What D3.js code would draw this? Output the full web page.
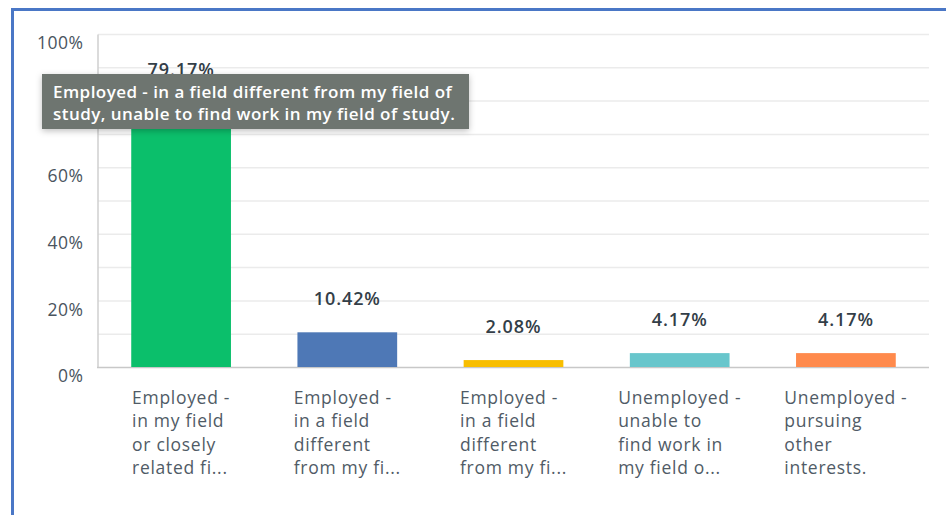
<!DOCTYPE html>
<html>
<head>
<meta charset="utf-8">
<script src="https://cdn.jsdelivr.net/npm/d3@7"></script>
<style>
  body { margin: 0; background: #fff; }
  svg { display: block; font-family: "Open Sans", sans-serif; }
</style>
</head>
<body>
<script>
'use strict';

// chart data
const categories = [
  ["Employed -", "in my field", "or closely", "related fi..."],
  ["Employed -", "in a field", "different", "from my fi..."],
  ["Employed -", "in a field", "different", "from my fi..."],
  ["Unemployed -", "unable to", "find work in", "my field o..."],
  ["Unemployed -", "pursuing", "other", "interests."]
];
const values = [79.17, 10.42, 2.08, 4.17, 4.17];
const barColors = ["#0bbf6b", "#4e78b6", "#f8be00", "#68c6cc", "#ff8a4c"];
const yTicks = [0, 20, 40, 60, 80, 100];
const gridTicks = [10, 20, 30, 40, 50, 60, 70, 80, 90, 100];
const tooltipLines = [
  "Employed - in a field different from my field of",
  "study, unable to find work in my field of study."
];

const width = 946, height = 515;

const svg = d3.select('body')
  .append('svg')
  .attr('width', width)
  .attr('height', height);

// blue frame (top and left edges visible)
svg.append('path')
  .attr('d', 'M12.5,515 L12.5,9.5 L946,9.5')
  .attr('fill', 'none')
  .attr('stroke', '#4a77c6')
  .attr('stroke-width', 3);

let xScale = d3.scaleBand()
  .domain(d3.range(values.length))
  .range([98, 929])
  .paddingInner(0.4)
  .paddingOuter(0.2);

let yScale = d3.scaleLinear()
  .domain([0, 100])
  .range([367, 34]);

// gridlines
svg.append('g')
  .selectAll('line')
  .data(gridTicks)
  .enter().append('line')
  .attr('x1', 98)
  .attr('x2', 929)
  .attr('y1', d => yScale(d) + 0.5)
  .attr('y2', d => yScale(d) + 0.5)
  .attr('stroke', '#ebebeb')
  .attr('stroke-width', 1.5);

// y axis line and labels
let yAxis = d3.axisLeft(yScale)
  .tickValues(yTicks)
  .tickSize(0)
  .tickPadding(14)
  .tickFormat(d => d + '%');

let yg = svg.append('g')
  .attr('transform', 'translate(97.5, 0)')
  .call(yAxis);
yg.select('.domain').attr('stroke', '#cfcfcf').attr('stroke-width', 1.5);
yg.selectAll('text')
  .attr('dy', '0.32em')
  .attr('y', 9)
  .style('font-size', '17.5px')
  .style('letter-spacing', '0.5px')
  .style('font-family', '"Open Sans", sans-serif')
  .attr('fill', '#4a545e');

// baseline
svg.append('line')
  .attr('x1', 97)
  .attr('x2', 929)
  .attr('y1', yScale(0) + 0.5)
  .attr('y2', yScale(0) + 0.5)
  .attr('stroke', '#c8c8c8')
  .attr('stroke-width', 1.5);

// bars
svg.selectAll('.bar')
  .data(values)
  .enter().append('rect')
  .attr('class', 'bar')
  .attr('x', (d, i) => xScale(i))
  .attr('y', d => yScale(d))
  .attr('width', xScale.bandwidth())
  .attr('height', d => yScale(0) - yScale(d))
  .attr('fill', (d, i) => barColors[i]);

// value labels
svg.selectAll('.val')
  .data(values)
  .enter().append('text')
  .attr('class', 'val')
  .attr('x', (d, i) => xScale(i) + xScale.bandwidth() / 2)
  .attr('y', d => yScale(d) - 27)
  .attr('text-anchor', 'middle')
  .style('font-size', '18px')
  .style('letter-spacing', '0.9px')
  .style('font-weight', 600)
  .attr('fill', '#333e48')
  .text(d => d.toFixed(2) + '%');

// category labels: left aligned block centred under each band
categories.forEach(function(lines, i) {
  let g = svg.append('g');
  let t = g.append('text')
    .style('font-size', '17.5px')
    .style('letter-spacing', '0.7px')
    .attr('fill', '#505b66');
  lines.forEach(function(line, j) {
    t.append('tspan')
      .attr('x', 0)
      .attr('y', 404 + j * 23.3)
      .text(line);
  });
  let w = t.node().getBBox().width;
  let cx = xScale(i) + xScale.bandwidth() / 2;
  g.attr('transform', 'translate(' + (cx - w / 2) + ', 0)');
});

// tooltip
let defs = svg.append('defs');
let f = defs.append('filter').attr('id', 'shadow')
  .attr('x', '-10%').attr('y', '-30%').attr('width', '120%').attr('height', '160%');
f.append('feDropShadow')
  .attr('dx', 0).attr('dy', 2)
  .attr('stdDeviation', 3)
  .attr('flood-color', '#000')
  .attr('flood-opacity', 0.25);

let tip = svg.append('g');
tip.append('rect')
  .attr('x', 42)
  .attr('y', 74)
  .attr('width', 427)
  .attr('height', 55)
  .attr('fill', '#6e746f')
  .attr('filter', 'url(#shadow)');
tip.selectAll('text')
  .data(tooltipLines)
  .enter().append('text')
  .attr('x', 53)
  .attr('y', (d, i) => 98 + i * 21.5)
  .style('font-size', '17px')
  .style('letter-spacing', '0.45px')
  .style('font-weight', 600)
  .attr('fill', '#ffffff')
  .text(d => d);
</script>
</body>
</html>
